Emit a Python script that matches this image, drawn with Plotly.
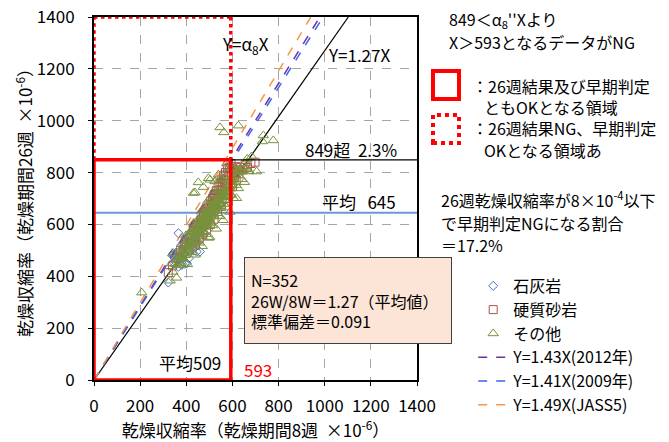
import plotly.graph_objects as go

FONT = "Noto Sans CJK JP"

# ---- data: drying shrinkage, 8 weeks (x) vs 26 weeks (y), ×10^-6 ----
limestone_x = [322, 366, 380, 394, 402, 445, 459, 344, 339, 366,
               350, 355, 360, 372, 385, 390, 398, 405, 410, 415,
               420, 425, 430, 435, 440, 448, 452, 456, 462, 468,
               470, 475, 480, 485, 490, 495, 500, 505, 512, 518,
               525, 530, 538, 545, 552, 378, 388, 412, 428, 436,
               346, 358, 408, 442, 458]
limestone_y = [376, 437, 444, 448, 450, 495, 495, 489, 481, 566,
               470, 455, 478, 470, 500, 488, 520, 510, 530, 498,
               545, 520, 560, 540, 575, 560, 590, 540, 600, 580,
               612, 565, 620, 600, 640, 615, 650, 630, 660, 640,
               690, 668, 700, 680, 720, 520, 530, 470, 505, 512,
               452, 492, 555, 530, 610]

sandstone_x = [322, 615, 698, 340, 360, 375, 385, 392, 400, 408,
               415, 420, 426, 432, 438, 444, 450, 455, 460, 465,
               470, 474, 478, 482, 486, 490, 494, 498, 502, 506,
               510, 514, 518, 522, 526, 530, 534, 538, 542, 546,
               550, 554, 558, 562, 566, 570, 574, 578, 582, 586,
               590, 594, 598, 602, 608, 612, 620, 628, 636, 645,
               655, 665, 680, 430, 446, 462, 476, 492, 508, 524,
               540, 556, 572, 440, 456, 472, 488, 504, 520, 536,
               552, 568, 584, 600, 616]
sandstone_y = [414, 823, 840, 440, 470, 500, 495, 520, 530, 505,
               545, 560, 530, 575, 548, 590, 570, 600, 585, 620,
               598, 635, 610, 650, 622, 660, 640, 675, 650, 690,
               665, 700, 680, 715, 690, 730, 705, 745, 720, 760,
               735, 775, 745, 790, 760, 800, 770, 815, 785, 820,
               800, 835, 790, 815, 780, 800, 810, 795, 820, 810,
               830, 820, 835, 580, 600, 615, 640, 650, 675, 690,
               712, 730, 755, 520, 545, 560, 580, 600, 620, 650,
               670, 700, 720, 745, 770]

other_x = [207, 546, 563, 626, 734, 730, 777, 655, 683, 705,
           669, 452, 496, 524, 438, 474, 431, 539, 503, 618,
           330, 336, 342, 348, 352, 358, 362, 368, 372, 378,
           382, 386, 390, 394, 398, 402, 405, 408, 412, 415,
           418, 421, 424, 427, 430, 433, 436, 439, 442, 445,
           448, 450, 453, 456, 458, 461, 464, 466, 469, 472,
           474, 477, 480, 482, 485, 488, 490, 493, 496, 498,
           501, 504, 506, 509, 512, 514, 517, 520, 522, 525,
           528, 530, 533, 536, 538, 541, 544, 546, 549, 552,
           554, 557, 560, 562, 565, 568, 570, 573, 576, 578,
           581, 584, 586, 589, 592, 595, 598, 600, 604, 608,
           612, 616, 620, 626, 632, 640, 646, 652, 660, 672,
           460, 470, 480, 490, 500, 510, 520, 530, 540, 550,
           465, 475, 485, 495, 505, 515, 525, 535, 545, 555,
           455, 467, 478, 489, 499, 511, 522, 533, 544, 556,
           440, 446, 452, 458, 464, 472, 478, 486, 492, 502,
           508, 516, 524, 532, 542, 548, 558, 564, 572, 580,
           588, 596, 566, 574, 582, 590, 597, 606, 614, 624,
           410, 416, 423, 428, 434, 441, 447, 453, 459, 463,
           468, 473, 479, 484, 491, 497, 503, 510, 517, 523,
           380, 388, 396, 404, 370, 376, 384, 392, 400, 406,
           664, 575]
other_y = [337, 974, 955, 981, 943, 920, 924, 836, 862, 804,
           804, 762, 778, 766, 723, 744, 721, 792, 772, 701,
           383, 450, 417, 487, 447, 394, 474, 442, 510, 473,
           478, 448, 523, 481, 557, 511, 446, 534, 494, 569,
           573, 526, 492, 572, 525, 606, 554, 483, 579, 534,
           538, 617, 566, 529, 614, 562, 650, 592, 516, 618,
           621, 572, 658, 603, 563, 654, 598, 690, 630, 548,
           551, 660, 607, 697, 640, 596, 693, 634, 731, 667,
           671, 583, 698, 643, 737, 676, 631, 732, 670, 773,
           776, 707, 616, 736, 678, 778, 713, 665, 772, 705,
           709, 818, 744, 648, 776, 714, 819, 750, 701, 815,
           820, 752, 806, 739, 809, 774, 808, 763, 818, 806,
           590, 600, 615, 630, 640, 655, 668, 680, 695, 708,
           605, 618, 630, 645, 655, 670, 683, 695, 708, 720,
           560, 590, 600, 615, 625, 640, 655, 668, 680, 695,
           540, 565, 575, 585, 570, 600, 590, 620, 605, 615,
           630, 648, 660, 672, 690, 680, 705, 712, 725, 740,
           770, 780, 712, 728, 742, 755, 765, 775, 790, 800,
           545, 520, 560, 530, 575, 590, 568, 580, 600, 610,
           590, 625, 615, 640, 628, 655, 642, 668, 655, 680,
           468, 482, 505, 498, 452, 478, 470, 500, 515, 522,
           853, 835]

series_names = ["石灰岩", "硬質砂岩", "その他"]

# proportional lines Y = k·X
fit_slope = 1.27
ref_slopes = [1.43, 1.41, 1.49]
ref_labels = ["Y=1.43X(2012年)", "Y=1.41X(2009年)", "Y=1.49X(JASS5)"]

mean_x = 509        # 8-week mean
mean_y = 645        # 26-week mean
limit_y = 849       # 26-week limit
ng_x = 593          # early-judgement threshold
axis_max = 1400
tick_step = 200

# ---- styles ----
marker_styles = [
    dict(symbol="diamond-open", size=7, color="#4472C4", line=dict(width=1)),
    dict(symbol="square-open", size=8, color="#B0504C", line=dict(width=1)),
    dict(symbol="triangle-up-open", size=9, color="#77933C", line=dict(width=1)),
]
ref_colors = ["#7030A0", "#3A66F0", "#F79646"]
RED = "#FF0000"

fig = go.Figure()

# fitted line Y = 1.27X
fig.add_trace(go.Scatter(
    x=[0, axis_max / fit_slope], y=[0, axis_max], mode="lines",
    line=dict(color="black", width=1.2), showlegend=False, hoverinfo="skip"))

# mean of the 26-week values
fig.add_trace(go.Scatter(
    x=[0, axis_max], y=[mean_y, mean_y], mode="lines",
    line=dict(color="#6A98D0", width=1.8), showlegend=False, hoverinfo="skip"))

# reference ratio lines
for i, (k, lab) in enumerate(zip(ref_slopes, ref_labels)):
    fig.add_trace(go.Scatter(
        x=[0, axis_max / k], y=[0, axis_max], mode="lines", name=lab,
        line=dict(color=ref_colors[i], width=1.5, dash="dash"),
        legendrank=10 + i))

# measured points
for i, (xs, ys, nm) in enumerate(zip([limestone_x, sandstone_x, other_x],
                                     [limestone_y, sandstone_y, other_y],
                                     series_names)):
    fig.add_trace(go.Scatter(
        x=xs, y=ys, mode="markers", name=nm, marker=marker_styles[i],
        legendrank=i + 1))

shapes = []
# OK region for both judgements
shapes.append(dict(type="rect", xref="x", yref="y", x0=0, y0=0, x1=ng_x, y1=limit_y,
                   line=dict(color=RED, width=3.5), fillcolor="rgba(0,0,0,0)"))
# 26-week NG / early OK region (dotted)
for (xa, ya, xb, yb) in [(0, limit_y, 0, axis_max), (0, axis_max, ng_x, axis_max),
                         (ng_x, axis_max, ng_x, limit_y)]:
    shapes.append(dict(type="line", xref="x", yref="y", x0=xa, y0=ya, x1=xb, y1=yb,
                       line=dict(color=RED, width=3.5, dash="dot")))
# 849 level to the right
shapes.append(dict(type="line", xref="x", yref="y", x0=ng_x, y0=limit_y,
                   x1=axis_max, y1=limit_y, line=dict(color="black", width=1.2)))

# legend keys for the regions
shapes.append(dict(type="rect", xref="paper", yref="paper", x0=1.0495, x1=1.130,
                   y0=0.774, y1=0.851, line=dict(color=RED, width=4)))
shapes.append(dict(type="rect", xref="paper", yref="paper", x0=1.0495, x1=1.130,
                   y0=0.653, y1=0.730, line=dict(color=RED, width=4, dash="dot")))

big_font = dict(family=FONT, size=17, color="black")
ann_font = dict(family=FONT, size=16, color="black")
annotations = [
    dict(x=655, y=1293, xref="x", yref="y", text="Y=α<sub>8</sub>X", showarrow=False,
         font=big_font),
    dict(x=1149, y=1255, xref="x", yref="y", text=f"Y={fit_slope}X", showarrow=False,
         font=big_font),
    dict(x=1114, y=888, xref="x", yref="y", text=f"{limit_y}超  2.3%", showarrow=False,
         font=big_font),
    dict(x=1149, y=687, xref="x", yref="y", text=f"平均   {mean_y}", showarrow=False,
         font=big_font),
    dict(x=416, y=66, xref="x", yref="y", text=f"平均{mean_x}", showarrow=False,
         font=big_font),
    dict(x=710, y=39, xref="x", yref="y", text=str(ng_x), showarrow=False,
         font=dict(family=FONT, size=17, color=RED)),
    dict(x=0.464, y=0.339, xref="paper", yref="paper", xanchor="left", yanchor="top",
         text="N=352<br>26W/8W＝1.27（平均値）<br>標準偏差＝0.091",
         align="left", showarrow=False, width=194, height=73, borderpad=6,
         bgcolor="#FCE4D6", bordercolor="#404040", borderwidth=1,
         font=dict(family=FONT, size=16, color="black")),
]

side_texts = [
    (1.093, 0.992, f"{limit_y}＜α<sub>8</sub>''Xより"),
    (1.093, 0.931, f"X＞{ng_x}となるデータがNG"),
    (1.164, 0.810, "：26週結果及び早期判定"),
    (1.201, 0.752, "ともOKとなる領域"),
    (1.164, 0.694, "：26週結果NG、早期判定"),
    (1.201, 0.634, "OKとなる領域あ"),
    (1.068, 0.496, "26週乾燥収縮率が8×10<sup>-4</sup>以下"),
    (1.068, 0.4325, "で早期判定NGになる割合"),
    (1.068, 0.372, "＝17.2%"),
]
for (px, py, t) in side_texts:
    annotations.append(dict(x=px, y=py, xref="paper", yref="paper", xanchor="left",
                            yanchor="middle", text=t, showarrow=False, font=ann_font))

axis_common = dict(
    range=[0, axis_max], dtick=tick_step, tick0=0,
    showgrid=True, gridcolor="#A6A6A6", griddash="dash", gridwidth=1,
    showline=True, linecolor="black", linewidth=2, mirror=True,
    ticks="outside", ticklen=4, tickcolor="black",
    tickfont=dict(family=FONT, size=17, color="black"),
    zeroline=False, fixedrange=True, automargin=False,
)

fig.update_layout(
    width=669, height=442,
    margin=dict(l=94, r=252, t=17, b=62, autoexpand=False),
    paper_bgcolor="white", plot_bgcolor="white",
    font=dict(family=FONT, color="black"),
    xaxis=dict(**axis_common, ticklabelstandoff=6,
               title=dict(text="乾燥収縮率（乾燥期間8週  ×10<sup>-6</sup>）",
                          font=dict(family=FONT, size=17), standoff=10)),
    yaxis=dict(**axis_common, ticklabelstandoff=10,
               title=dict(text="乾燥収縮率（乾燥期間26週  ×10<sup>-6</sup>）",
                          font=dict(family=FONT, size=17), standoff=0)),
    legend=dict(x=1.174, y=0.306, xanchor="left", yanchor="top",
                font=dict(family=FONT, size=16, color="black"),
                bgcolor="rgba(0,0,0,0)", tracegroupgap=0),
    shapes=shapes,
    annotations=annotations,
    showlegend=True,
)

fig.write_html("out.html")
